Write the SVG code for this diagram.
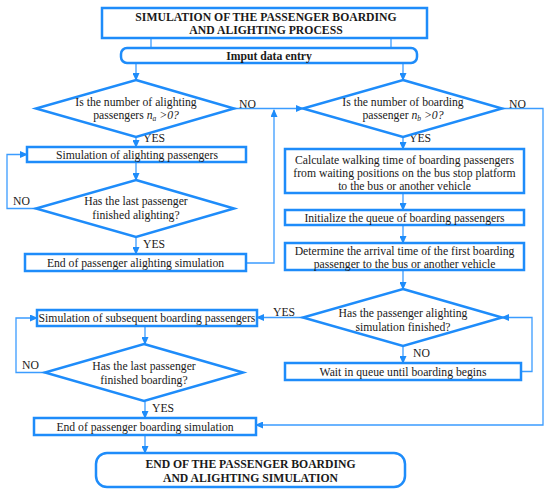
<svg xmlns="http://www.w3.org/2000/svg" width="550" height="495" viewBox="0 0 550 495">
<style>
text{font-family:'Liberation Serif','Times New Roman','DejaVu Serif',serif;font-size:11.7px;fill:#1a1a1a}
.box{fill:#fff;stroke:#1e8cfa;stroke-width:2.5}
.ln{fill:none;stroke:#3b9cff;stroke-width:1.3}
.t{text-anchor:middle}
.b{font-weight:bold}
.i{font-style:italic}
</style>
<defs>
<marker id="ah" markerWidth="8" markerHeight="7" refX="7" refY="3.5" orient="auto" markerUnits="userSpaceOnUse">
<path d="M0,0 L8,3.5 L0,7 Z" fill="#1e8cfa"/>
</marker>
</defs>
<rect width="550" height="495" fill="#fff"/>
<g id="connectors">
<line class="ln" x1="151" y1="38" x2="151" y2="48"/>
<line class="ln" x1="391" y1="38" x2="391" y2="48"/>
<line class="ln" x1="136" y1="63" x2="136" y2="80" marker-end="url(#ah)"/>
<line class="ln" x1="403" y1="63" x2="403" y2="80" marker-end="url(#ah)"/>
<line class="ln" x1="234" y1="108.5" x2="303" y2="108.5" marker-end="url(#ah)"/>
<polyline class="ln" points="246,263 274,263 274,110" marker-end="url(#ah)"/>
<polyline class="ln" points="502,108.5 543,108.5 543,425 256,425" marker-end="url(#ah)"/>
<line class="ln" x1="136" y1="137" x2="136" y2="147" marker-end="url(#ah)"/>
<line class="ln" x1="136" y1="162" x2="136" y2="180" marker-end="url(#ah)"/>
<polyline class="ln" points="36,208.5 7,208.5 7,154.5 27,154.5" marker-end="url(#ah)"/>
<line class="ln" x1="136" y1="237" x2="136" y2="254" marker-end="url(#ah)"/>
<line class="ln" x1="403" y1="137" x2="403" y2="149" marker-end="url(#ah)"/>
<line class="ln" x1="403" y1="193" x2="403" y2="210" marker-end="url(#ah)"/>
<line class="ln" x1="403" y1="225" x2="403" y2="243" marker-end="url(#ah)"/>
<line class="ln" x1="403" y1="270" x2="403" y2="289" marker-end="url(#ah)"/>
<line class="ln" x1="303" y1="317.5" x2="257" y2="317.5" marker-end="url(#ah)"/>
<line class="ln" x1="403" y1="346" x2="403" y2="363" marker-end="url(#ah)"/>
<polyline class="ln" points="521,371.5 532,371.5 532,317.5 502,317.5" marker-end="url(#ah)"/>
<line class="ln" x1="145" y1="326" x2="145" y2="344" marker-end="url(#ah)"/>
<polyline class="ln" points="45,372.5 16,372.5 16,318 37,318" marker-end="url(#ah)"/>
<line class="ln" x1="145" y1="401" x2="145" y2="418" marker-end="url(#ah)"/>
<line class="ln" x1="145" y1="435" x2="145" y2="453" marker-end="url(#ah)"/>
</g>
<g id="labels">
<text x="239" y="108">NO</text>
<text x="509" y="108">NO</text>
<text x="143" y="142">YES</text>
<text x="13" y="205">NO</text>
<text x="143" y="248">YES</text>
<text x="409" y="142">YES</text>
<text x="273" y="316">YES</text>
<text x="413" y="357">NO</text>
<text x="22" y="369">NO</text>
<text x="152" y="412">YES</text>
</g>
<g id="title">
<rect class="box" x="102" y="8" width="325" height="30"/>
<text class="t b" x="266" y="21">SIMULATION OF THE PASSENGER BOARDING</text>
<text class="t b" x="266" y="34">AND ALIGHTING PROCESS</text>
</g>
<g id="input">
<rect class="box" x="121" y="48" width="296" height="15" rx="6"/>
<text class="t b" x="269" y="59.5">Imput data entry</text>
</g>
<g id="dec-alighting">
<polygon class="box" points="136,80 234,108.5 136,137 36,108.5"/>
<text class="t" x="136" y="106">Is the number of alighting</text>
<text class="t" x="136" y="119">passengers <tspan class="i">n</tspan><tspan class="i" font-size="7.5" dy="2">a</tspan><tspan class="i" dy="-2"> &gt;0?</tspan></text>
</g>
<g id="dec-boarding">
<polygon class="box" points="403,80 502,108.5 403,137 303,108.5"/>
<text class="t" x="403" y="106">Is the number of boarding</text>
<text class="t" x="403" y="119">passenger <tspan class="i">n</tspan><tspan class="i" font-size="7.5" dy="2">b</tspan><tspan class="i" dy="-2"> &gt;0?</tspan></text>
</g>
<g id="sim-alighting">
<rect class="box" x="27" y="147" width="219" height="15"/>
<text class="t" x="137" y="158.5">Simulation of alighting passengers</text>
</g>
<g id="dec-last-alighting">
<polygon class="box" points="136,180 234,208.5 136,237 36,208.5"/>
<text class="t" x="136" y="205">Has the last passenger</text>
<text class="t" x="136" y="219">finished alighting?</text>
</g>
<g id="end-alighting">
<rect class="box" x="25" y="254" width="221" height="17"/>
<text class="t" x="135.5" y="266.5">End of passenger alighting simulation</text>
</g>
<g id="calc-walking">
<rect class="box" x="285" y="149" width="239" height="44"/>
<text class="t" x="404.5" y="164">Calculate walking time of boarding passengers</text>
<text class="t" x="404.5" y="177">from waiting positions on the bus stop platform</text>
<text class="t" x="404.5" y="190">to the bus or another vehicle</text>
</g>
<g id="init-queue">
<rect class="box" x="285" y="210" width="239" height="15"/>
<text class="t" x="404.5" y="221.5">Initialize the queue of boarding passengers</text>
</g>
<g id="arrival-time">
<rect class="box" x="285" y="243" width="239" height="27"/>
<text class="t" x="404.5" y="255">Determine the arrival time of the first boarding</text>
<text class="t" x="404.5" y="268">passenger to the bus or another vehicle</text>
</g>
<g id="dec-alighting-finished">
<polygon class="box" points="403,289 502,317.5 403,346 303,317.5"/>
<text class="t" x="403" y="317">Has the passenger alighting</text>
<text class="t" x="403" y="331">simulation finished?</text>
</g>
<g id="wait-queue">
<rect class="box" x="285" y="363" width="236" height="17"/>
<text class="t" x="403" y="375.5">Wait in queue until boarding begins</text>
</g>
<g id="sim-boarding">
<rect class="box" x="37" y="310" width="220" height="16"/>
<text class="t" x="147" y="321.5">Simulation of subsequent boarding passengers</text>
</g>
<g id="dec-last-boarding">
<polygon class="box" points="144,344 243,372.5 144,401 45,372.5"/>
<text class="t" x="144" y="370">Has the last passenger</text>
<text class="t" x="144" y="384">finished boarding?</text>
</g>
<g id="end-boarding">
<rect class="box" x="34" y="418" width="222" height="17"/>
<text class="t" x="145" y="430.5">End of passenger boarding simulation</text>
</g>
<g id="end">
<rect class="box" x="96" y="453" width="309" height="34" rx="11"/>
<text class="t b" x="250.5" y="468">END OF THE PASSENGER BOARDING</text>
<text class="t b" x="250.5" y="482">AND ALIGHTING SIMULATION</text>
</g>
</svg>
